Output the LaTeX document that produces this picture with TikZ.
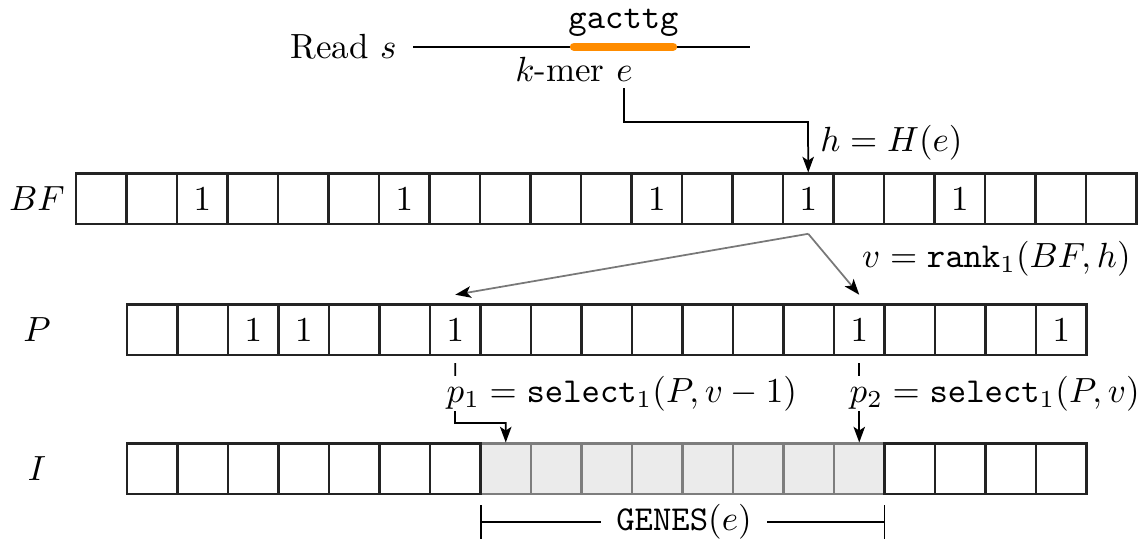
\documentclass[tikz,border=0pt]{standalone}
\usetikzlibrary{arrows.meta,calc}
\definecolor{kmerorange}{RGB}{255,140,0}
\definecolor{shade}{RGB}{235,235,235}
\definecolor{shadeline}{RGB}{125,125,125}
\definecolor{framegray}{RGB}{35,35,35}
\definecolor{rankgray}{RGB}{120,120,120}
\begin{document}
\begin{tikzpicture}[x=0.286pt,y=-0.286pt,
  cell/.style={draw=framegray,line width=0.6pt,minimum width=14.44pt,
    minimum height=14.44pt,inner sep=0pt},
  shadedcell/.style={cell,fill=shade,draw=shadeline},
  link/.style={line width=0.5pt},
  tip/.style={-{Stealth[length=4.5pt,width=3.3pt,inset=1.1pt]}},
  rankarrow/.style={line width=0.5pt,draw=rankgray,
    -{Stealth[length=4.5pt,width=3.3pt,inset=1.1pt,black]}},
  onlink/.style={fill=white,inner sep=0pt,anchor=base west}]
\useasboundingbox (0,0) rectangle (1140,539);

% ---- the read and its k-mer ----
\coordinate (readL) at (413,46.7);
\coordinate (readR) at (750,46.7);
\coordinate (kmL) at (574,46.7);
\coordinate (kmR) at (673,46.7);
\node[anchor=east,inner xsep=4.5pt] (readlab) at (readL) {Read $s$};
\draw[link] (readlab.east) -- (readR);
\draw[line width=2.4pt,kmerorange,line cap=round] (kmL) -- (kmR);
\node[anchor=base,font=\ttfamily] (seq) at (623.5,28) {gacttg};
\node[anchor=base] (kmer) at (574,81) {$k$-mer $e$};

% ---- Bloom filter BF (21 cells) ----
\foreach \i in {0,1,3,4,5,7,8,9,10,12,13,15,16,18,19,20}
  \node[cell] (bf\i) at ({101.25+50.5*\i},198.75) {};
\foreach \i in {2,6,11,14,17}
  \node[cell] (bf\i) at ({101.25+50.5*\i},198.75) {$1$};

% ---- bit vector P (19 cells) ----
\foreach \i in {0,1,4,5,7,8,9,10,11,12,13,15,16,17}
  \node[cell] (pc\i) at ({152.25+50.5*\i},329.75) {};
\foreach \i in {2,3,6,14,18}
  \node[cell] (pc\i) at ({152.25+50.5*\i},329.75) {$1$};

% ---- gene list I (19 cells, GENES(e) shaded) ----
\foreach \i in {7,...,14}
  \node[shadedcell] (ic\i) at ({152.25+50.5*\i},468.75) {};
\foreach \i in {0,...,6,15,16,17,18}
  \node[cell] (ic\i) at ({152.25+50.5*\i},468.75) {};

% ---- row names ----
\node (bflab) at (37,198.75) {$BF$};
\node (plab) at (37,329.75) {$P$};
\node (ilab) at (37,468.75) {$I$};

% ---- hashing the k-mer ----
\coordinate (eDown) at (624,88);
\coordinate (hTurn) at (808,122);
\draw[link,tip] (eDown) |- (hTurn) -- (bf14.north);
\node[anchor=west] (hlab) at (808,143) {$h = H(e)$};

% ---- rank in BF, then the two 1s in P ----
\node[anchor=base east] (vlab) at (1143,267) {$v = \mathtt{rank}_1(BF,h)$};
\coordinate (vsrc) at ([yshift=-2.5pt]bf14.south);
\draw[rankarrow] (vsrc) -- ([yshift=2.5pt]pc6.north);
\draw[rankarrow] (vsrc) -- ([yshift=2.5pt]pc14.north);

% ---- select in P, pointing into I ----
\coordinate (p1turn) at (455,423);
\draw[link,tip] ([yshift=-2pt]pc6.south) -- (p1turn) -| (ic7.north);
\draw[link,tip] ([yshift=-2pt]pc14.south) -- (ic14.north);
\node[onlink] (p1lab) at (446,402) {$p_1 = \mathtt{select}_1(P, v-1)$};
\node[onlink] (p2lab) at (849,402) {$p_2 = \mathtt{select}_1(P, v)$};

% ---- extent of GENES(e) ----
\coordinate (gL) at (481,522);
\coordinate (gR) at (884.5,522);
\draw[link] (481,505) -- (481,539);
\draw[link] (884.5,505) -- (884.5,539);
\node (genes) at (684,522) {$\mathtt{GENES}(e)$};
\draw[link] (gL) -- ([xshift=-1pt]genes.west);
\draw[link] ([xshift=1pt]genes.east) -- (gR);
\end{tikzpicture}
\end{document}
